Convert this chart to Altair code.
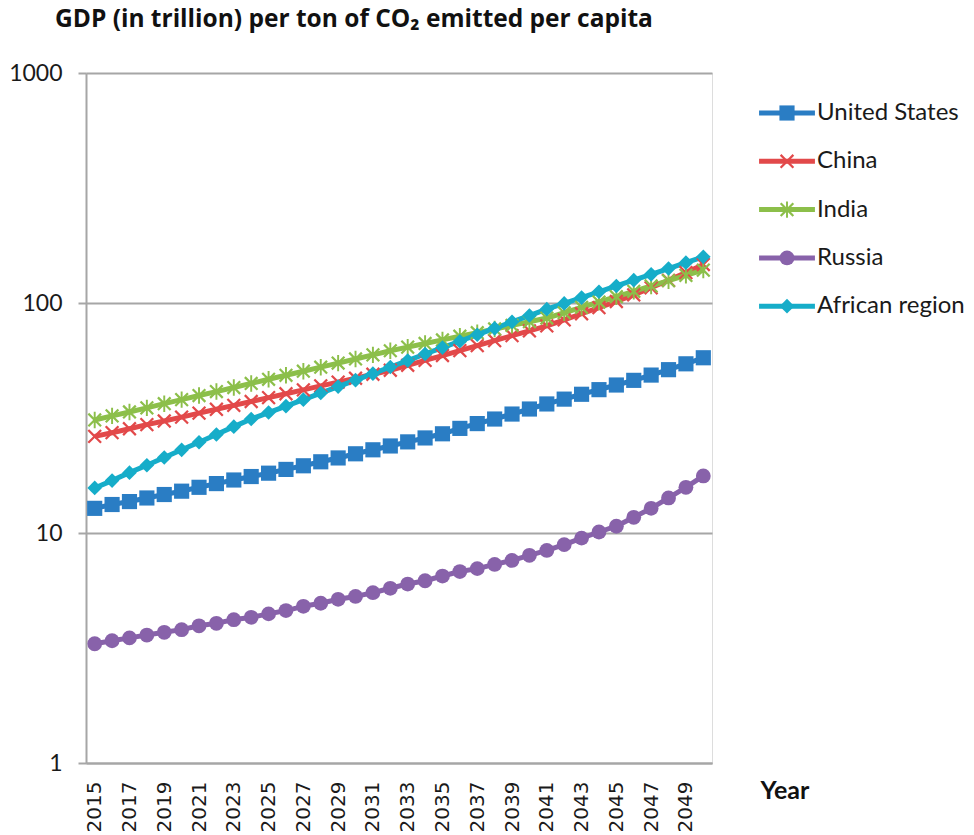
import altair as alt
import pandas as pd

years = list(range(2015, 2051))
series_names = ["United States", "China", "India", "Russia", "African region"]

us = [12.8, 13.3, 13.7, 14.2, 14.7, 15.2, 15.8, 16.4, 17.0, 17.6, 18.2, 18.9, 19.6, 20.4, 21.2, 22.1, 23.0, 23.9,
      24.9, 25.9, 27.0, 28.5, 29.9, 31.3, 32.9, 34.6, 36.4, 38.2, 40.1, 42.0, 44.0, 46.1, 48.6, 51.3, 54.4, 57.8]
china = [26.3, 27.3, 28.4, 29.6, 30.7, 31.9, 33.2, 34.5, 35.9, 37.3, 38.8, 40.3, 41.9, 43.6, 45.3, 47.1, 49.0, 51.0,
         53.6, 56.3, 59.1, 62.1, 65.3, 68.6, 72.1, 75.7, 79.5, 84.5, 89.8, 95.5, 101.5, 108.5, 116.5, 125.5, 135.5, 147.0]
india = [31.0, 32.3, 33.6, 35.0, 36.5, 38.0, 39.6, 41.2, 42.9, 44.7, 46.6, 48.5, 50.5, 52.6, 54.8, 57.1, 59.5, 62.0,
         64.3, 66.7, 69.1, 71.7, 74.3, 77.1, 79.9, 82.9, 86.0, 90.7, 95.7, 101.0, 106.5, 112.4, 118.6, 125.0, 131.9, 139.0]
russia = [3.3, 3.4, 3.5, 3.6, 3.7, 3.8, 3.95, 4.05, 4.2, 4.3, 4.45, 4.6, 4.8, 4.95, 5.15, 5.3, 5.5, 5.75,
          6.0, 6.2, 6.5, 6.8, 7.0, 7.3, 7.6, 8.0, 8.4, 8.9, 9.5, 10.1, 10.7, 11.7, 12.8, 14.2, 15.8, 17.7]
africa = [15.7, 16.9, 18.3, 19.7, 21.3, 23.0, 24.8, 26.8, 29.0, 31.3, 33.4, 35.6, 38.0, 40.6, 43.3, 46.2, 49.3, 52.7,
          56.2, 60.0, 64.0, 68.2, 72.8, 77.6, 82.8, 88.2, 94.0, 99.6, 105.6, 111.9, 118.6, 125.7, 133.2, 141.2, 149.7, 158.7]

colors = ["#2A7DC4", "#E2494A", "#8CBF4A", "#8862AA", "#16ADC9"]

X_PATH = ("M0.742,-0.955L0.955,-0.742L0.212,0L0.955,0.742L0.742,0.955L0,0.212L-0.742,0.955"
          "L-0.955,0.742L-0.212,0L-0.955,-0.742L-0.742,-0.955L0,-0.212Z")
AST_PATH = X_PATH + "M-0.13,-1.1L0.13,-1.1L0.13,1.1L-0.13,1.1Z"
shapes = ["square", X_PATH, AST_PATH, "circle", "diamond"]
sizes = [230, 215, 200, 250, 300]

rows = []
for name, vals in zip(series_names, [us, china, india, russia, africa]):
    for yr, v in zip(years, vals):
        rows.append({"Year": yr, "Series": name, "Value": v})
df = pd.DataFrame(rows)

GRID = "#A6A6A6"
LEG_X = 689
LEG_Y = 28
LEG_FONT = 24
LEG_ROWPAD = 24.3
LEG_LABOFF = 18

x_enc = alt.X(
    "Year:Q",
    scale=alt.Scale(domain=[2014.5, 2050.5], nice=False, zero=False),
    axis=alt.Axis(
        values=list(range(2015, 2050, 2)), format="d", labelAngle=-90, ticks=False, grid=False,
        labelOverlap=False, labelFont="DejaVu Sans", labelFontSize=20, labelColor="#1a1a1a", labelPadding=18,
        domainColor=GRID, domainWidth=2,
        title="Year", titleFont="Lato", titleFontSize=25, titleFontWeight="bold", titleColor="#111",
        titleAngle=0, titleAlign="left", titleBaseline="middle", titleX=674, titleY=27,
    ),
)
y_enc = alt.Y(
    "Value:Q",
    scale=alt.Scale(type="log", domain=[1, 1000], nice=False),
    axis=alt.Axis(
        values=[1, 10, 100, 1000], format="d", title=None, grid=True, gridColor=GRID, gridWidth=2,
        tickSize=8, tickColor=GRID, tickWidth=2, domainColor=GRID, domainWidth=2,
        labelFont="Lato", labelFontSize=23, labelColor="#1a1a1a", labelPadding=16,
    ),
)

lines = alt.Chart(df).mark_line(strokeWidth=5, strokeJoin="round").encode(
    x=x_enc,
    y=y_enc,
    color=alt.Color(
        "Series:N",
        scale=alt.Scale(domain=series_names, range=colors),
        sort=series_names,
        legend=alt.Legend(
            orient="none", legendX=LEG_X, legendY=LEG_Y, title=None,
            symbolType="M-5.1,0L5.1,0", symbolSize=120, symbolStrokeWidth=5,
            labelOpacity=0, labelFont="Lato", labelFontSize=LEG_FONT, rowPadding=LEG_ROWPAD,
            labelOffset=LEG_LABOFF,
        ),
    ),
    order=alt.Order("Year:Q"),
)

pt_legend = alt.Legend(
    orient="none", legendX=LEG_X, legendY=LEG_Y, title=None,
    symbolSize=120, symbolStrokeWidth=0,
    labelFont="Lato", labelFontSize=LEG_FONT, labelColor="#1a1a1a", rowPadding=LEG_ROWPAD,
    labelOffset=LEG_LABOFF,
)

points = alt.Chart(df).mark_point(filled=True, opacity=1, strokeWidth=0).encode(
    x=x_enc,
    y=y_enc,
    color=alt.Color(
        "Series:N",
        scale=alt.Scale(domain=series_names, range=colors),
        sort=series_names,
        legend=pt_legend,
    ),
    shape=alt.Shape(
        "Series:N",
        scale=alt.Scale(domain=series_names, range=shapes),
        sort=series_names,
        legend=pt_legend,
    ),
    size=alt.Size("Series:N", scale=alt.Scale(domain=series_names, range=sizes), legend=None),
)

chart = (
    alt.layer(lines, points)
    .resolve_scale(color="independent", shape="independent", size="independent")
    .properties(
        width=626,
        height=690,
        autosize=alt.AutoSizeParams(type="none"),
        padding={"left": 86, "top": 73, "right": 262, "bottom": 72},
        title=alt.TitleParams(
            text="GDP (in trillion) per ton of CO\u2082 emitted per capita",
            anchor="start", frame="group", dx=-31, offset=11, baseline="alphabetic",
            font="Open Sans", fontSize=24.5, fontWeight="bold", color="#111",
        ),
    )
    .configure_view(stroke=None)
    .configure(background="white")
)

chart.save("out.html", embed_options={"renderer": "svg", "actions": False})
